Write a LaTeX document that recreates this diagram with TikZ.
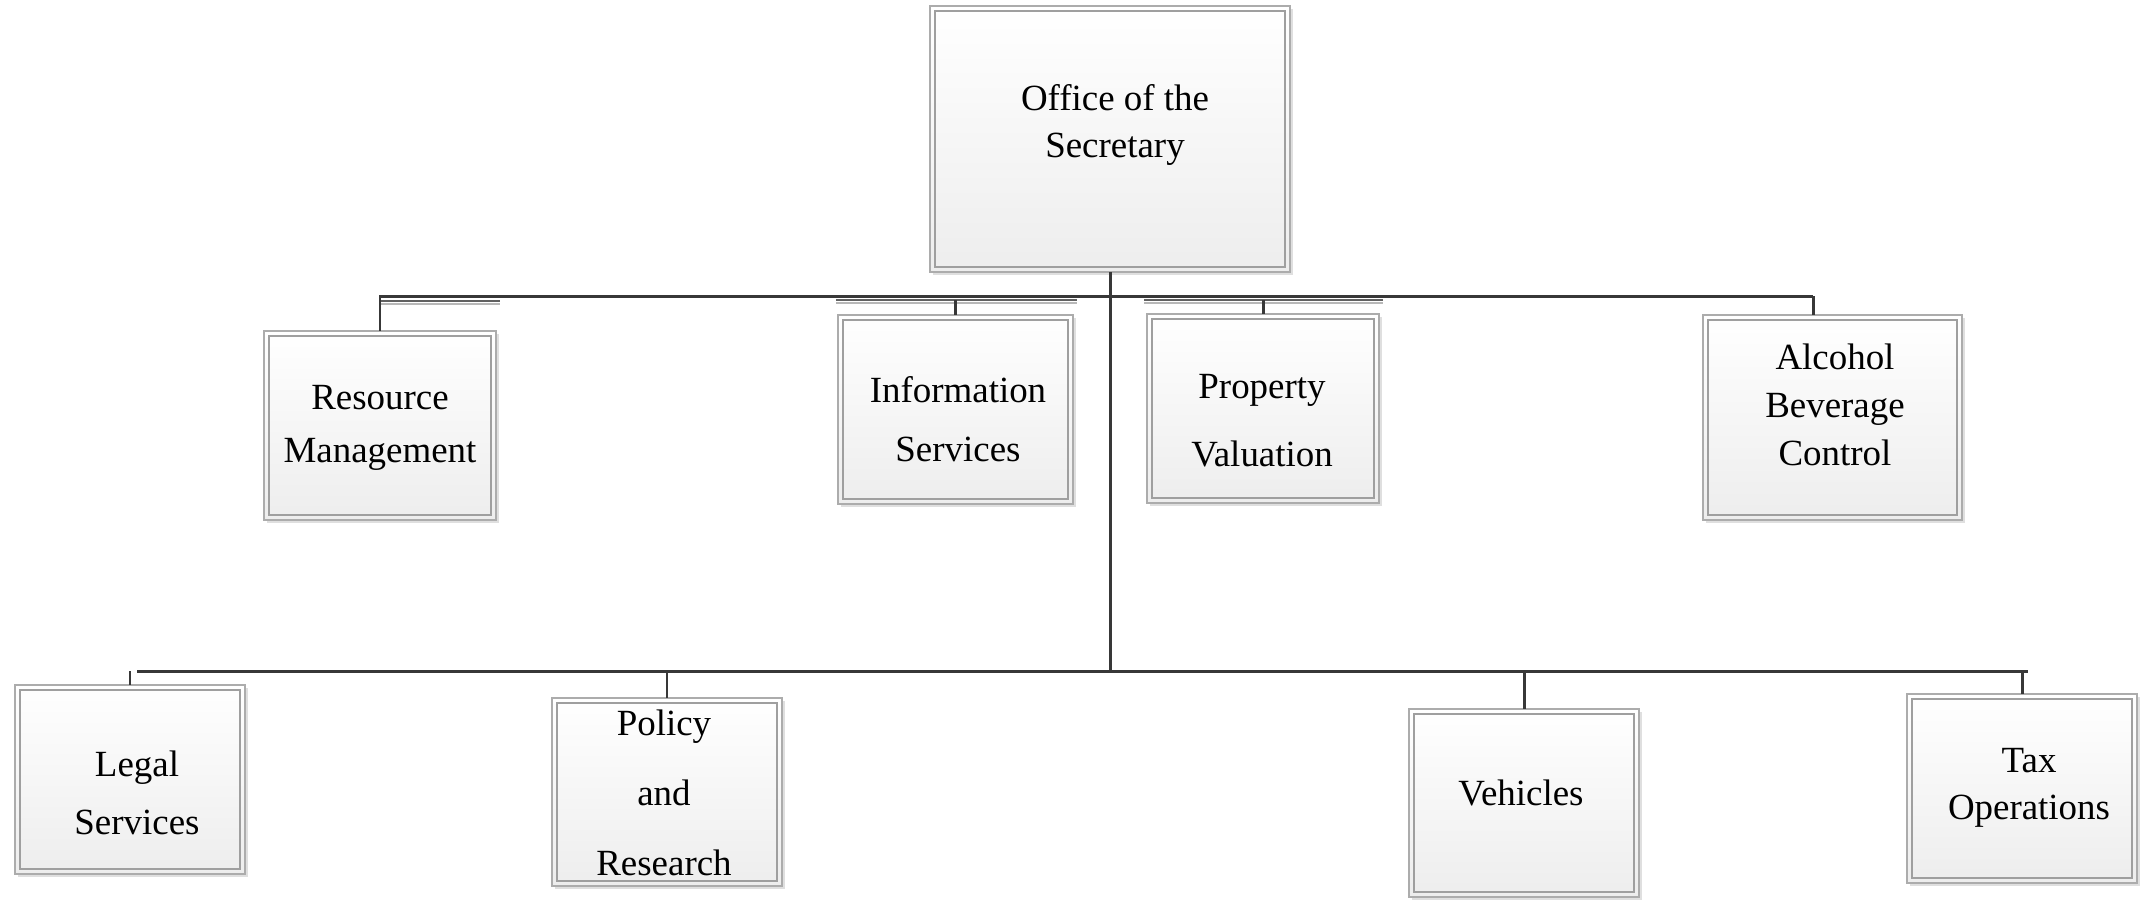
\documentclass[tikz,border=0pt]{standalone}
\usepackage{fontspec}
\setmainfont{Liberation Serif}
\usetikzlibrary{shadows}
\begin{document}
\begin{tikzpicture}[x=0.01cm,y=-0.01cm,
  box/.style={draw=gray!65, line width=0.7pt, rectangle, top color=white, bottom color=gray!14,
    drop shadow={shadow xshift=0.9pt, shadow yshift=-0.9pt, opacity=0.25, fill=gray}, inner sep=0pt, outer sep=0pt},
  innerline/.style={draw=gray!75, line width=0.6pt},
  lbl/.style={align=center, inner sep=0pt, text=black},
  conn/.style={draw=black!78, line width=0.85pt},
  ghost/.style={draw=black!62, line width=0.7pt},
  ghostlight/.style={draw=black!28, line width=0.6pt}]
\useasboundingbox (0,0) rectangle (2147,899);

% ghost lines under the upper bar
\draw[ghost] (379,301) -- (500,301);
\draw[ghostlight] (379,304) -- (500,304);
\draw[ghost] (836,300) -- (1077,300);
\draw[ghostlight] (836,303) -- (1077,303);
\draw[ghost] (1144,300) -- (1383,300);
\draw[ghostlight] (1144,303) -- (1383,303);

% boxes
\node[box, minimum width=3.60cm, minimum height=2.66cm] (boff) at (1110,139) {};
\node[box, minimum width=2.32cm, minimum height=1.89cm] (bres) at (380,425.5) {};
\node[box, minimum width=2.35cm, minimum height=1.89cm] (binf) at (955.5,409.5) {};
\node[box, minimum width=2.32cm, minimum height=1.89cm] (bpro) at (1263,408.5) {};
\node[box, minimum width=2.59cm, minimum height=2.05cm] (balc) at (1832.5,417.5) {};
\node[box, minimum width=2.30cm, minimum height=1.89cm] (bleg) at (130,779.5) {};
\node[box, minimum width=2.30cm, minimum height=1.88cm] (bpol) at (667,792) {};
\node[box, minimum width=2.30cm, minimum height=1.88cm] (bveh) at (1524,803) {};
\node[box, minimum width=2.30cm, minimum height=1.89cm] (btax) at (2022,788.5) {};
\foreach \n in {boff,bres,binf,bpro,balc,bleg,bpol,bveh,btax}
  \draw[innerline] ([shift={(5,5)}]\n.north west) rectangle ([shift={(-5,-5)}]\n.south east);

% labels
\node[lbl, font=\fontsize{10.5}{13.2}\selectfont] (toff) at (1115,125) {Office of the\\Secretary};
\node[lbl, font=\fontsize{10.5}{15.1}\selectfont] (tres) at (380,428) {Resource\\Management};
\node[lbl, font=\fontsize{10.5}{16.8}\selectfont] (tinf) at (958,419) {Information\\Services};
\node[lbl, font=\fontsize{10.5}{19.4}\selectfont] (tpro) at (1262,421) {Property\\Valuation};
\node[lbl, font=\fontsize{10.5}{13.7}\selectfont] (talc) at (1835,405) {Alcohol\\Beverage\\Control};
\node[lbl, font=\fontsize{10.5}{16.4}\selectfont] (tleg) at (137,793) {Legal\\Services};
\node[lbl, font=\fontsize{10.5}{19.9}\selectfont] (tpol) at (664,793) {Policy\\and\\Research};
\node[lbl, font=\fontsize{10.5}{13}\selectfont] (tveh) at (1521,793) {Vehicles};
\node[lbl, font=\fontsize{10.5}{13.2}\selectfont] (ttax) at (2029,788) {Tax\\Operations};

% connectors
\coordinate (tl) at (379,296);
\coordinate (tr) at (1813,296);
\coordinate (bl) at (137,671);
\coordinate (br) at (2028,671);
\coordinate (ist) at (956,300);
\coordinate (pst) at (1262,300);
\draw[conn] (tl) -- (tr);
\draw[conn] (bl) -- (br);
\draw[conn] (boff.south) -- (boff.south |- bl);
\draw[conn] (bres.north) -- (bres.north |- tl);
\draw[conn] (binf.north) -- (binf.north |- ist);
\draw[conn] (bpro.north) -- (bpro.north |- pst);
\draw[conn] (tr) -- (tr |- balc.north);
\draw[conn] (bleg.north) -- (bleg.north |- bl);
\draw[conn] (bpol.north) -- (bpol.north |- bl);
\draw[conn] (bveh.north) -- (bveh.north |- bl);
\draw[conn] (btax.north) -- (btax.north |- bl);
\end{tikzpicture}
\end{document}
